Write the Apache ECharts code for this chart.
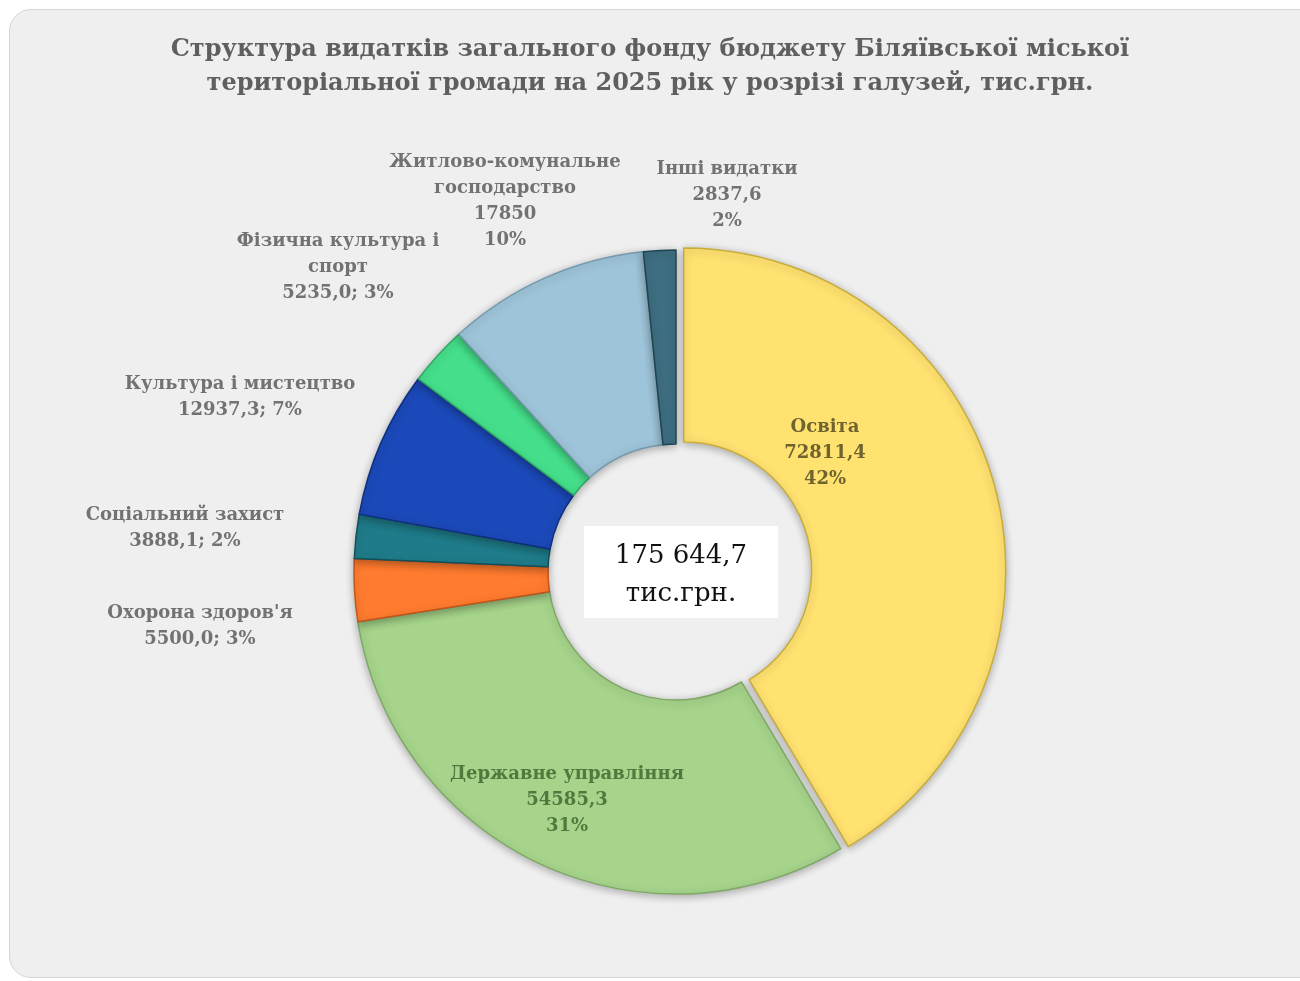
<!DOCTYPE html>
<html>
<head>
<meta charset="utf-8">
<script src="https://cdn.jsdelivr.net/npm/echarts@6/dist/echarts.min.js"></script>
<style>
  html, body { margin: 0; padding: 0; background: #ffffff; }
  #card { position: absolute; left: 9px; top: 9px; width: 1310px; height: 967px;
          background: #efefef; border: 1.5px solid #d6d6d6; border-radius: 22px; }
  #chart { position: absolute; left: 0; top: 0; width: 1300px; height: 981px; }
</style>
</head>
<body>
<div id="card"></div>
<div id="chart"></div>
<script>
const categories = ['Освіта', 'Державне управління', "Охорона здоров'я", 'Соціальний захист',
  'Культура і мистецтво', 'Фізична культура і спорт', 'Житлово-комунальне господарство', 'Інші видатки'];
const values = [72811.4, 54585.3, 5500.0, 3888.1, 12937.3, 5235.0, 17850, 2837.6];
const valueLabels = ['72811,4', '54585,3', '5500,0', '3888,1', '12937,3', '5235,0', '17850', '2837,6'];
const percentLabels = ['42%', '31%', '3%', '2%', '7%', '3%', '10%', '2%'];
const nameLabels = ['Освіта', 'Державне управління', "Охорона здоров'я", 'Соціальний захист',
  'Культура і мистецтво', 'Фізична культура і\nспорт', 'Житлово-комунальне\nгосподарство', 'Інші видатки'];
const separators = ['\n', '\n', '; ', '; ', '; ', '; ', '\n', '\n'];
const totalLabel = '175 644,7\nтис.грн.';
const titleText = 'Структура видатків загального фонду бюджету Біляївської міської\nтериторіальної громади на 2025 рік у розрізі галузей, тис.грн.';

const colors = ['#ffe270', '#a6d48b', '#ff7b2f', '#1f7b89', '#1c49b9', '#45df8b', '#9ec4d9', '#3e6e81'];
const borders = ['#c9ad3a', '#7ea865', '#c4541a', '#114f5a', '#0f2f80', '#2aa862', '#7499ad', '#1d4553'];
const labelColors = ['#6f6330', '#4e7a3e', '#727272', '#727272', '#727272', '#727272', '#727272', '#727272'];
const labelPos = [[825, 453], [567, 800], [200, 626], [185, 528], [240, 397], [338, 267], [505, 201], [727, 195]];
const explodedIndex = 0;

const CENTER = [676, 572];
const RADIUS = [128, 322];
const EXPLODE = 8;

const chart = echarts.init(document.getElementById('chart'), null, { renderer: 'canvas' });

const hidden = { color: 'rgba(0,0,0,0)', borderWidth: 0, shadowBlur: 0, shadowColor: 'rgba(0,0,0,0)' };

// main ring: all slices except the exploded one, plus all labels
const mainData = categories.map((c, i) => ({
  name: c,
  value: values[i],
  itemStyle: i === explodedIndex ? hidden : { color: colors[i], borderColor: borders[i] },
  label: { color: labelColors[i] }
}));
// exploded ring: only the exploded slice visible
const explodedData = categories.map((c, i) => ({
  name: c,
  value: values[i],
  itemStyle: i === explodedIndex ? { color: colors[i], borderColor: borders[i] } : hidden
}));

// explode direction = middle angle of the exploded slice
const total = values.reduce((a, b) => a + b, 0);
let before = 0;
for (let i = 0; i < explodedIndex; i++) before += values[i];
const midFrac = (before + values[explodedIndex] / 2) / total;
const ang = midFrac * 2 * Math.PI;
const explodedCenter = [CENTER[0] + EXPLODE * Math.sin(ang), CENTER[1] - EXPLODE * Math.cos(ang)];

const common = {
  type: 'pie',
  radius: RADIUS,
  startAngle: 90,
  clockwise: true,
  avoidLabelOverlap: false,
  emphasis: { disabled: true },
  itemStyle: { borderWidth: 1.5, shadowBlur: 8, shadowColor: 'rgba(0,0,0,0.3)', shadowOffsetY: 2 },
  labelLine: { show: false }
};

chart.setOption({
  backgroundColor: 'transparent',
  animation: false,
  title: {
    text: titleText,
    left: 'center',
    top: 28,
    textStyle: { fontFamily: 'DejaVu Serif', fontWeight: 'bold', fontSize: 24, color: '#5f5f5f', lineHeight: 34 }
  },
  series: [Object.assign({}, common, {
    name: 'exploded',
    center: explodedCenter,
    z: 2,
    label: { show: false },
    data: explodedData
  }), Object.assign({}, common, {
    name: 'main',
    center: CENTER,
    z: 3,
    label: {
      show: true,
      position: 'outside',
      fontFamily: 'DejaVu Serif',
      fontWeight: 'bold',
      fontSize: 18,
      lineHeight: 26,
      align: 'center',
      formatter: p => nameLabels[p.dataIndex] + '\n' + valueLabels[p.dataIndex] + separators[p.dataIndex] + percentLabels[p.dataIndex]
    },
    labelLayout: p => ({ x: labelPos[p.dataIndex][0], y: labelPos[p.dataIndex][1], align: 'center', verticalAlign: 'middle' }),
    data: mainData
  })],
  graphic: [{
    type: 'rect',
    shape: { x: 584, y: 526, width: 194, height: 92 },
    style: { fill: '#ffffff' },
    z: 10
  }, {
    type: 'text',
    x: 681, y: 575,
    z: 11,
    style: {
      text: totalLabel,
      fontFamily: 'DejaVu Serif',
      fontSize: 26,
      lineHeight: 38,
      fill: '#111111',
      align: 'center',
      verticalAlign: 'middle'
    }
  }]
});
</script>
</body>
</html>
